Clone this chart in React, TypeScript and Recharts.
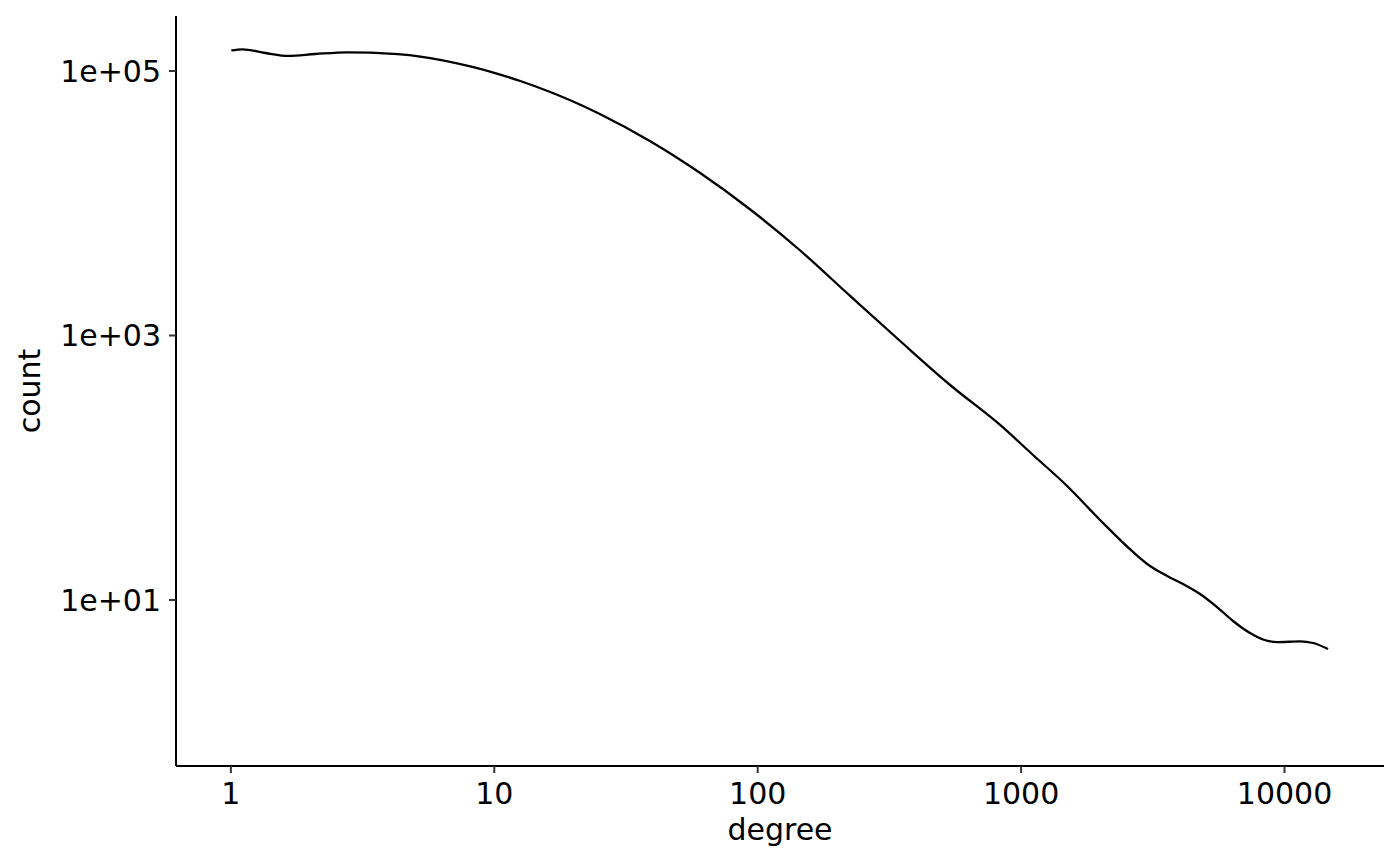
import React from 'react';
import { LineChart, Line, XAxis, YAxis, Label } from 'recharts';

const degrees = [
  1.004, 1.106, 1.352, 1.653, 2.093, 2.768, 3.383, 5.239, 8.108, 10.0, 12.55, 16.31, 19.43, 25.26,
  39.1, 60.5, 93.7, 145, 224.4, 347.3, 537.7, 832.4, 1110, 1495, 1994, 2661,
  3087, 3583, 4119, 4779, 5542, 6377, 7397, 8287, 9366, 11450, 12830, 14630,
];
const counts = [
  142900, 145900, 136800, 129900, 134400, 138500, 137500, 128500, 108300, 96920, 84030, 69380, 60040, 47130,
  29460, 16930, 8970, 4392, 1990, 908.7, 422.4, 210.6, 124.9, 72.8, 40.3, 23.07,
  18.07, 15.19, 13.21, 11.1, 8.85, 6.94, 5.63, 5.03, 4.81, 4.86, 4.73, 4.26,
];
const xTicks = [1, 10, 100, 1000, 10000];
const xTickLabels = ['1', '10', '100', '1000', '10000'];
const yTicks = [10, 1000, 100000];
const yTickLabels = ['1e+01', '1e+03', '1e+05'];
const xTitle = 'degree';
const yTitle = 'count';

const data = degrees.map((d, i) => ({ degree: d, count: counts[i] }));

const FONT = 'DejaVu Sans';
const FS = 30;

export default function App() {
  return (
    <div style={{ position: 'absolute', left: 0, top: 0, width: 1400, height: 865, background: '#fff' }}>
      <LineChart
        width={1400}
        height={865}
        data={data}
        margin={{ top: 16, right: 16, left: 0, bottom: 0 }}
      >
        <XAxis
          dataKey="degree"
          type="number"
          scale="log"
          domain={[0.619, 23860]}
          allowDataOverflow
          ticks={xTicks}
          tickFormatter={(v: number) => xTickLabels[xTicks.indexOf(v)] ?? String(v)}
          height={99}
          tickSize={7}
          tickMargin={10}
          stroke="#000"
          strokeWidth={2}
          tick={{ fill: '#000', fontSize: FS, fontFamily: FONT }}
          tickLine={{ stroke: '#333', strokeWidth: 2 }}
        >
          <Label
            content={({ viewBox }: any) => (
              <text
                x={viewBox.x + viewBox.width / 2}
                y={840}
                textAnchor="middle"
                fontSize={FS}
                fontFamily={FONT}
                fill="#000"
              >
                {xTitle}
              </text>
            )}
          />
        </XAxis>
        <YAxis
          dataKey="count"
          type="number"
          scale="log"
          domain={[0.5557, 260500]}
          allowDataOverflow
          ticks={yTicks}
          tickFormatter={(v: number) => yTickLabels[yTicks.indexOf(v)] ?? String(v)}
          width={176}
          tickSize={7}
          tickMargin={8}
          stroke="#000"
          strokeWidth={2}
          tick={{ fill: '#000', fontSize: FS, fontFamily: FONT }}
          tickLine={{ stroke: '#333', strokeWidth: 2 }}
        >
          <Label
            content={() => (
              <text
                x={40}
                y={391}
                transform="rotate(-90, 40, 391)"
                textAnchor="middle"
                fontSize={FS}
                fontFamily={FONT}
                fill="#000"
              >
                {yTitle}
              </text>
            )}
          />
        </YAxis>
        <Line
          type="monotone"
          dataKey="count"
          stroke="#000"
          strokeWidth={2.3}
          dot={false}
          isAnimationActive={false}
        />
      </LineChart>
    </div>
  );
}
